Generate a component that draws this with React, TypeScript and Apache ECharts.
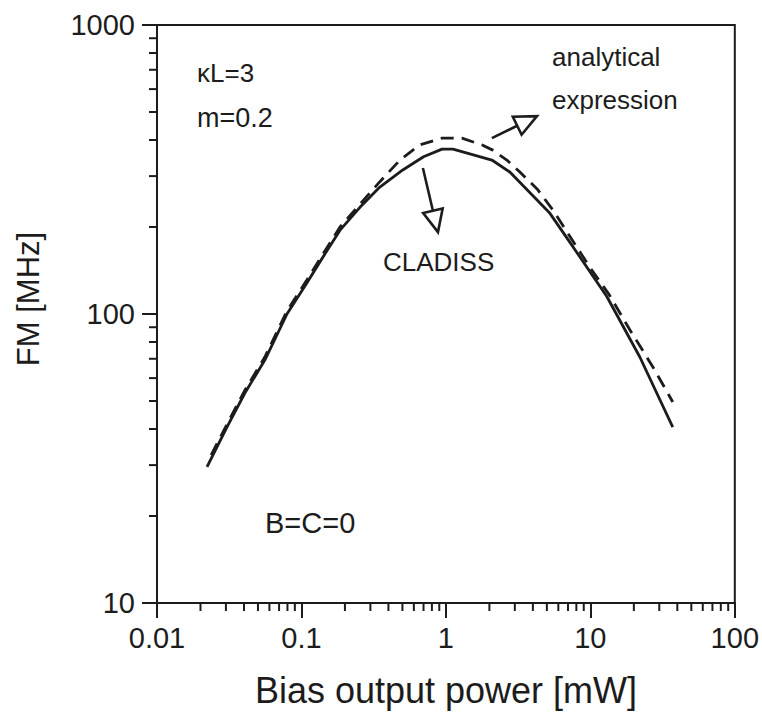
import React, { useEffect, useRef } from "react";
import * as echarts from "echarts";

// ---- data ----
const xTickLabels = ["0.01", "0.1", "1", "10", "100"];
const yTickLabels = ["10", "100", "1000"];

// CLADISS (solid)
const cladissX = [0.0222, 0.0305, 0.0406, 0.0558, 0.0794, 0.109, 0.146, 0.185, 0.254, 0.349, 0.503, 0.70, 0.94, 1.12, 2.08, 2.77, 5.25, 7.57, 13.0, 22.0, 37.2];
const cladissY = [29.6, 40.6, 53.3, 69.3, 100, 128, 162, 195, 234, 275, 315, 350, 372, 372, 341, 310, 223, 171, 115, 71, 40.6];

// analytical expression (dashed)
const analyticalX = [0.0237, 0.0305, 0.0406, 0.0558, 0.0794, 0.109, 0.146, 0.185, 0.254, 0.349, 0.481, 0.661, 0.938, 1.29, 1.77, 2.11, 2.64, 3.25, 4.33, 5.5, 9.93, 13.6, 18.8, 27.1, 37.2];
const analyticalY = [32.5, 41.5, 54.5, 71, 102.5, 131, 166, 200, 240, 287, 341, 385, 406, 406, 385, 369, 341, 310, 269, 229, 145, 116, 88, 65.6, 49.6];

// arrows: [fromX, fromY, tipX, tipY]
const cladissArrow = [0.693, 320, 0.881, 192];
const analyticalArrow = [2.08, 406, 4.27, 484];

// log-axis minor tick structure
const minorMultipliers = [2, 3, 4, 5, 6, 7, 8, 9];
const xDecades = [0.01, 0.1, 1, 10];
const yDecades = [10, 100];

const INK = "#1c1c1c";
const FONT = "'Liberation Sans', Arial, Helvetica, sans-serif";

function findLabel(labels: string[], v: number) {
  const hit = labels.find((l) => Math.abs(Math.log10(Number(l)) - Math.log10(v)) < 1e-6);
  return hit ?? "";
}

export default function App() {
  const ref = useRef<HTMLDivElement>(null);

  useEffect(() => {
    if (!ref.current) return;
    const chart = echarts.init(ref.current, undefined, { renderer: "svg" });

    const xMinor = xDecades.flatMap((d) => minorMultipliers.map((m) => [d * m, 10]));
    const yMinor = yDecades.flatMap((d) => minorMultipliers.map((m) => [0.01, d * m]));

    const axisCommon = {
      axisLine: { show: true, onZero: false, lineStyle: { color: INK, width: 2 } },
      axisTick: { show: true, inside: false, length: 15, lineStyle: { color: INK, width: 2 } },
      splitLine: { show: false },
      minorTick: { show: false },
      minorSplitLine: { show: false },
    };

    const annot = (text: string, x: number, y: number, size: number) => ({
      type: "text",
      x,
      y,
      style: {
        text,
        fill: INK,
        fontSize: size,
        fontFamily: FONT,
        align: "left",
        verticalAlign: "middle",
        textAlign: "left",
        textVerticalAlign: "middle",
      },
    });

    const option: any = {
      animation: false,
      backgroundColor: "#ffffff",
      grid: {
        left: 157,
        right: 27,
        top: 25,
        bottom: 110,
        show: true,
        borderColor: INK,
        borderWidth: 2,
        backgroundColor: "transparent",
      },
      xAxis: {
        type: "log",
        logBase: 10,
        min: 0.01,
        max: 100,
        ...axisCommon,
        axisLabel: {
          color: INK,
          fontSize: 29,
          fontFamily: FONT,
          margin: 20,
          showMinLabel: true,
          showMaxLabel: true,
          formatter: (v: number) => findLabel(xTickLabels, v),
        },
      },
      yAxis: {
        type: "log",
        logBase: 10,
        min: 10,
        max: 1000,
        ...axisCommon,
        axisLabel: {
          color: INK,
          fontSize: 29,
          fontFamily: FONT,
          margin: 22,
          showMinLabel: true,
          showMaxLabel: true,
          formatter: (v: number) => findLabel(yTickLabels, v),
        },
      },
      series: [
        {
          type: "line",
          name: "CLADISS",
          data: cladissX.map((x, i) => [x, cladissY[i]]),
          showSymbol: false,
          symbol: "none",
          smooth: false,
          lineStyle: { color: INK, width: 2.8 },
          z: 3,
        },
        {
          type: "line",
          name: "analytical expression",
          data: analyticalX.map((x, i) => [x, analyticalY[i]]),
          showSymbol: false,
          symbol: "none",
          smooth: false,
          lineStyle: { color: INK, width: 2.8, type: [13, 8] },
          z: 3,
        },
        {
          type: "custom",
          name: "xMinorTicks",
          data: xMinor,
          clip: false,
          silent: true,
          encode: { x: 0, y: 1 },
          renderItem: (_p: any, api: any) => {
            const pt = api.coord([api.value(0), api.value(1)]);
            return {
              type: "line",
              shape: { x1: pt[0], y1: pt[1], x2: pt[0], y2: pt[1] + 8 },
              style: { stroke: INK, lineWidth: 2 },
            };
          },
        },
        {
          type: "custom",
          name: "yMinorTicks",
          data: yMinor,
          clip: false,
          silent: true,
          encode: { x: 0, y: 1 },
          renderItem: (_p: any, api: any) => {
            const pt = api.coord([api.value(0), api.value(1)]);
            return {
              type: "line",
              shape: { x1: pt[0] - 8, y1: pt[1], x2: pt[0], y2: pt[1] },
              style: { stroke: INK, lineWidth: 2 },
            };
          },
        },
        {
          type: "custom",
          name: "arrows",
          data: [cladissArrow, analyticalArrow],
          clip: false,
          silent: true,
          encode: { x: [0, 2], y: [1, 3] },
          renderItem: (_p: any, api: any) => {
            const a = api.coord([api.value(0), api.value(1)]);
            const t = api.coord([api.value(2), api.value(3)]);
            const dx = t[0] - a[0];
            const dy = t[1] - a[1];
            const len = Math.hypot(dx, dy) || 1;
            const ux = dx / len;
            const uy = dy / len;
            const hl = 22;
            const hw = 10;
            const bx = t[0] - ux * hl;
            const by = t[1] - uy * hl;
            return {
              type: "group",
              children: [
                {
                  type: "line",
                  shape: { x1: a[0], y1: a[1], x2: bx, y2: by },
                  style: { stroke: INK, lineWidth: 2.6 },
                },
                {
                  type: "polygon",
                  shape: {
                    points: [
                      [t[0], t[1]],
                      [bx - uy * hw, by + ux * hw],
                      [bx + uy * hw, by - ux * hw],
                    ],
                  },
                  style: { fill: "#ffffff", stroke: INK, lineWidth: 2.6, lineJoin: "miter" },
                },
              ],
            };
          },
          z: 4,
        },
      ],
      graphic: [
        annot("κL=3", 197, 73, 26),
        annot("m=0.2", 197, 118, 27),
        annot("analytical", 552, 57, 26),
        annot("expression", 552, 100, 26),
        annot("CLADISS", 383, 262, 26),
        annot("B=C=0", 265, 523, 29),
        {
          type: "text",
          x: 446,
          y: 690,
          style: {
            text: "Bias output power [mW]",
            fill: INK,
            fontSize: 36,
            fontFamily: FONT,
            align: "center",
            verticalAlign: "middle",
            textAlign: "center",
            textVerticalAlign: "middle",
          },
        },
        {
          type: "text",
          x: 28,
          y: 299,
          rotation: Math.PI / 2,
          style: {
            text: "FM [MHz]",
            fill: INK,
            fontSize: 31,
            fontFamily: FONT,
            align: "center",
            verticalAlign: "middle",
            textAlign: "center",
            textVerticalAlign: "middle",
          },
        },
      ],
    };

    chart.setOption(option);
    return () => chart.dispose();
  }, []);

  return (
    <div
      ref={ref}
      style={{ position: "absolute", left: 0, top: 0, width: 762, height: 713, background: "#fff" }}
    />
  );
}
